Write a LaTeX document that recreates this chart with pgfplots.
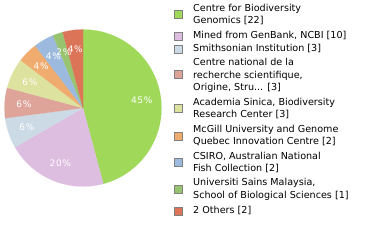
\documentclass[border=0pt]{standalone}
\usepackage{pgfplots}
\pgfplotsset{compat=1.18}
\usepackage{fontspec}
\setmainfont{DejaVu Sans}
\newfontfamily\lblfont[LetterSpace=8]{DejaVu Sans}
\definecolor{c1}{RGB}{160,217,90}
\definecolor{c2}{RGB}{221,190,224}
\definecolor{c3}{RGB}{204,218,230}
\definecolor{c4}{RGB}{222,164,154}
\definecolor{c5}{RGB}{221,226,158}
\definecolor{c6}{RGB}{240,172,110}
\definecolor{c7}{RGB}{156,186,222}
\definecolor{c8}{RGB}{152,196,112}
\definecolor{c9}{RGB}{220,116,88}
\def\total{48}
\xdef\cum{90}
\newcommand\slice[2]{% value, colour
  \pgfmathsetmacro\sa{\cum}%
  \pgfmathsetmacro\sb{\cum-#1*360/\total}%
  \edef\temp{\noexpand\addplot[fill=#2, draw=#2, line width=0.1pt, domain=\sb:\sa, samples=60, variable=\noexpand\t] ({cos(\noexpand\t)},{sin(\noexpand\t)}) -- (axis cs:0,0) -- cycle;}%
  \temp
  \xdef\cum{\sb}%
}
\xdef\lcum{90}
\newcommand\plabel[2]{% value, label
  \pgfmathsetmacro\m{\lcum-#1*180/\total}%
  \pgfmathsetmacro\lx{0.755*cos(\m)}%
  \pgfmathsetmacro\ly{0.755*sin(\m)}%
  \edef\temp{\noexpand\node[text=white, font=\noexpand\lblfont\noexpand\fontsize{9}{10}\noexpand\selectfont] at (axis cs:\lx,\ly) {\unexpanded{#2}};}%
  \temp
  \pgfmathsetmacro\nc{\lcum-#1*360/\total}%
  \xdef\lcum{\nc}%
}
\begin{document}
\begin{tikzpicture}[x=1pt,y=1pt]
\path[use as bounding box] (0,0) rectangle (380,240);
\begin{axis}[at={(83pt,132pt)}, anchor=center, scale only axis, width=157pt, height=157pt,
  xmin=-1, xmax=1, ymin=-1, ymax=1, hide axis, clip=false]
\slice{22}{c1}
\slice{10}{c2}
\slice{3}{c3}
\slice{3}{c4}
\slice{3}{c5}
\slice{2}{c6}
\slice{2}{c7}
\slice{1}{c8}
\slice{2}{c9}
\plabel{22}{45\%}
\plabel{10}{20\%}
\plabel{3}{6\%}
\plabel{3}{6\%}
\plabel{3}{6\%}
\plabel{2}{4\%}
\plabel{2}{4\%}
\plabel{1}{2\%}
\plabel{2}{4\%}
\end{axis}
\foreach \yc/\col in {14/c1,36/c2,49/c3,74/c4,108/c5,136/c6,162/c7,189/c8,211/c9}{
  \filldraw[fill=\col, draw=gray, line width=0.8pt] (174,240-\yc-4) rectangle (182,240-\yc+4);
}
\foreach \yb/\txt in {12/Centre for Biodiversity, 24/Genomics [22], 39/{Mined from GenBank, NCBI [10]}, 52/Smithsonian Institution [3], 66/Centre national de la, 79/{recherche scientifique,}, 91/{Origine, Stru... [3]}, 106/{Academia Sinica, Biodiversity}, 118/Research Center [3], 133/McGill University and Genome, 145/Quebec Innovation Centre [2], 160/{CSIRO, Australian National}, 172/Fish Collection [2], 186/{Universiti Sains Malaysia,}, 199/School of Biological Sciences [1], 214/2 Others [2]}{
  \node[anchor=base west, inner sep=0pt, font=\fontsize{9.6}{11}\selectfont] at (193,240-\yb) {\txt};
}
\end{tikzpicture}
\end{document}
